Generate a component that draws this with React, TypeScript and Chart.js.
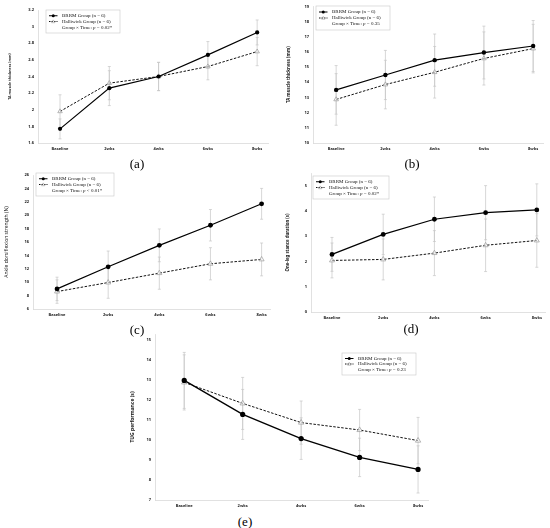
import React, { useEffect, useRef } from "react";
import { Chart, registerables } from "chart.js";

Chart.register(...registerables);

const weeks = ["Baseline", "2wks", "4wks", "6wks", "8wks"];

// (a) TA muscle thickness
const brrmA = [1.77, 2.26, 2.4, 2.66, 2.93];
const hallA = [1.98, 2.32, 2.4, 2.52, 2.7];
const brrmSdA = [0.12, 0.21, 0.17, 0.16, 0.15];
const hallSdA = [0.2, 0.2, 0.17, 0.16, 0.17];
const yTicksA = [1.6, 1.8, 2, 2.2, 2.4, 2.6, 2.8, 3, 3.2];

// (b) TA muscle thickness
const brrmB = [13.5, 14.48, 15.46, 15.96, 16.39];
const hallB = [12.87, 13.85, 14.66, 15.57, 16.22];
const brrmSdB = [1.6, 1.62, 1.72, 1.74, 1.68];
const hallSdB = [1.7, 1.6, 1.7, 1.75, 1.6];
const yTicksB = [10, 11, 12, 13, 14, 15, 16, 17, 18, 19];

// (c) ankle dorsiflexion strength
const brrmC = [9.0, 12.3, 15.5, 18.5, 21.7];
const hallC = [8.6, 9.95, 11.35, 12.75, 13.4];
const brrmSdC = [1.75, 2.35, 2.45, 2.35, 2.3];
const hallSdC = [1.75, 2.35, 2.4, 2.4, 2.45];
const yTicksC = [6, 8, 10, 12, 14, 16, 18, 20, 22, 24, 26];

// (d) one-leg stance duration
const brrmD = [2.28, 3.07, 3.67, 3.93, 4.04];
const hallD = [2.04, 2.08, 2.33, 2.64, 2.83];
const brrmSdD = [0.67, 0.8, 0.88, 1.07, 1.03];
const hallSdD = [0.69, 0.81, 0.89, 1.04, 1.06];
const yTicksD = [0, 1, 2, 3, 4, 5];

// (e) TUG performance
const brrmE = [12.98, 11.28, 10.07, 9.13, 8.53];
const hallE = [12.88, 11.83, 10.87, 10.5, 9.97];
const brrmSdE = [1.4, 1.25, 1.04, 0.96, 1.18];
const hallSdE = [1.38, 1.3, 1.08, 1.03, 1.16];
const yTicksE = [7, 8, 9, 10, 11, 12, 13, 14, 15];

const panels = [
  {
    id: "a", brrm: brrmA, hall: hallA, brrmSd: brrmSdA, hallSd: hallSdA, yTicks: yTicksA,
    yMin: 1.6, yMax: 3.2, title: "TA muscle thickness (mm)", pText: " = 0.02*",
    left: 0, top: 0, w: 275, h: 158, yW: 38, padTop: 10, padRight: 7, xH: 15,
    xMin: -0.447, xMax: 4.22, titleSize: 3.6, titleBold: true, titlePad: 7.8,
    legend: { x: 46, y: 10, w: 74, h: 23 }, label: { x: 137, y: 163 }, r: 2.1,
  },
  {
    id: "b", brrm: brrmB, hall: hallB, brrmSd: brrmSdB, hallSd: hallSdB, yTicks: yTicksB,
    yMin: 10, yMax: 19, title: "TA muscle thickness (mm)", pText: " = 0.35",
    left: 275, top: 0, w: 275, h: 158, yW: 38, padTop: 5, padRight: 7, xH: 15,
    xMin: -0.47, xMax: 4.2, titleSize: 4.4, titleBold: true, titlePad: 11.3,
    legend: { x: 41, y: 6, w: 74, h: 24 }, label: { x: 412, y: 163 }, r: 2.2,
  },
  {
    id: "c", brrm: brrmC, hall: hallC, brrmSd: brrmSdC, hallSd: hallSdC, yTicks: yTicksC,
    yMin: 6, yMax: 26, title: "Ankle dorsiflexion strength (N)", pText: " < 0.01*",
    left: 0, top: 165, w: 275, h: 158, yW: 33, padTop: 10, padRight: 3, xH: 14,
    xMin: -0.47, xMax: 4.17, titleSize: 5, titleBold: false, titlePad: 4,
    legend: { x: 36, y: 8, w: 78, h: 23 }, label: { x: 137, y: 329 }, r: 2.4,
  },
  {
    id: "d", brrm: brrmD, hall: hallD, brrmSd: brrmSdD, hallSd: hallSdD, yTicks: yTicksD,
    yMin: 0, yMax: 5.5, title: "One-leg stance duration (s)", pText: " = 0.02*",
    left: 275, top: 165, w: 275, h: 158, yW: 36, padTop: 8, padRight: 5, xH: 11,
    xMin: -0.41, xMax: 4.16, titleSize: 4.3, titleBold: true, titlePad: 10.4,
    legend: { x: 38, y: 11, w: 76, h: 23 }, label: { x: 411, y: 328 }, r: 2.4,
  },
  {
    id: "e", brrm: brrmE, hall: hallE, brrmSd: brrmSdE, hallSd: hallSdE, yTicks: yTicksE,
    yMin: 7, yMax: 15.3, title: "TUG performance (s)", pText: " = 0.23",
    left: 125, top: 326, w: 310, h: 187, yW: 30, padTop: 8, padRight: 7, xH: 13,
    xMin: -0.5, xMax: 4.17, titleSize: 5, titleBold: true, titlePad: 4.9,
    legend: { x: 217, y: 27, w: 74, h: 22 }, label: { x: 245, y: 521 }, r: 2.6,
  },
];

const sansFont = "'Noto Sans', sans-serif";
const serifFont = "'Liberation Serif', serif";

// grey +/- SD whiskers under the lines
const errorBars = {
  id: "errorBars",
  beforeDatasetsDraw(chart: any) {
    const { ctx } = chart;
    const yScale = chart.scales.y;
    chart.data.datasets.forEach((ds: any, i: number) => {
      const meta = chart.getDatasetMeta(i);
      ctx.save();
      ctx.strokeStyle = "#c6c6c6";
      ctx.lineWidth = 0.7;
      meta.data.forEach((pt: any, j: number) => {
        const v = ds.data[j].y;
        const sd = ds.sd[j];
        const top = yScale.getPixelForValue(v + sd);
        const bot = yScale.getPixelForValue(v - sd);
        ctx.beginPath();
        ctx.moveTo(pt.x, top);
        ctx.lineTo(pt.x, bot);
        ctx.moveTo(pt.x - 1.5, top);
        ctx.lineTo(pt.x + 1.5, top);
        ctx.moveTo(pt.x - 1.5, bot);
        ctx.lineTo(pt.x + 1.5, bot);
        ctx.stroke();
      });
      ctx.restore();
    });
  },
};

// boxed legend with the interaction p value line
const groupLegend = {
  id: "groupLegend",
  afterDraw(chart: any, _args: any, opts: any) {
    const { ctx } = chart;
    const { x, y, w, h, pText } = opts;
    const ds = chart.data.datasets;
    ctx.save();
    ctx.fillStyle = "#fff";
    ctx.fillRect(x, y, w, h);
    ctx.strokeStyle = "#c8c8c8";
    ctx.lineWidth = 0.6;
    ctx.strokeRect(x, y, w, h);

    const row = h / 3.8;
    const rows = [y + row * 0.95, y + row * 1.9, y + row * 2.85];
    const sx = x + 3;
    const ex = x + 11.5;
    const tx = x + 16;

    // BRRM sample
    ctx.strokeStyle = ds[0].borderColor;
    ctx.lineWidth = 1;
    ctx.beginPath();
    ctx.moveTo(sx, rows[0]);
    ctx.lineTo(ex, rows[0]);
    ctx.stroke();
    ctx.fillStyle = ds[0].pointBackgroundColor;
    ctx.beginPath();
    ctx.arc((sx + ex) / 2, rows[0], 1.5, 0, Math.PI * 2);
    ctx.fill();

    // Halliwick sample
    ctx.setLineDash([1.5, 1]);
    ctx.strokeStyle = ds[1].borderColor;
    ctx.beginPath();
    ctx.moveTo(sx, rows[1]);
    ctx.lineTo(ex, rows[1]);
    ctx.stroke();
    ctx.setLineDash([]);
    const cx = (sx + ex) / 2;
    ctx.strokeStyle = ds[1].pointBorderColor;
    ctx.lineWidth = 0.6;
    ctx.beginPath();
    ctx.moveTo(cx, rows[1] - 1.6);
    ctx.lineTo(cx + 1.7, rows[1] + 1.2);
    ctx.lineTo(cx - 1.7, rows[1] + 1.2);
    ctx.closePath();
    ctx.stroke();

    ctx.fillStyle = "#111";
    ctx.textBaseline = "middle";
    ctx.textAlign = "left";
    ctx.font = `5px ${serifFont}`;
    ctx.fillText(ds[0].label, tx, rows[0]);
    ctx.fillText(ds[1].label, tx, rows[1]);
    const lead = "Group \u00d7 Time: ";
    ctx.fillText(lead, tx, rows[2]);
    let px = tx + ctx.measureText(lead).width;
    ctx.font = `italic 5px ${serifFont}`;
    ctx.fillText("p", px, rows[2]);
    px += ctx.measureText("p").width;
    ctx.font = `5px ${serifFont}`;
    ctx.fillText(pText, px, rows[2]);
    ctx.restore();
  },
};

function Panel({ p }: { p: (typeof panels)[number] }) {
  const chartRef = useRef<HTMLCanvasElement | null>(null);
  const chartInstanceRef = useRef<Chart<"line"> | null>(null);

  useEffect(() => {
    if (!chartRef.current) return;
    const ctx = chartRef.current.getContext("2d");
    if (!ctx) return;
    if (chartInstanceRef.current) chartInstanceRef.current.destroy();

    const tickFont = { family: sansFont, size: 4, weight: "bold" as const };

    chartInstanceRef.current = new Chart(ctx, {
      type: "line",
      data: {
        datasets: [
          {
            label: "BRRM Group (n = 6)",
            data: p.brrm.map((v, i) => ({ x: i, y: v })),
            sd: p.brrmSd,
            borderColor: "#000",
            borderWidth: p.id === "e" ? 1.4 : 1.2,
            pointStyle: "circle",
            pointRadius: p.r,
            pointBackgroundColor: "#000",
            pointBorderColor: "#000",
            pointBorderWidth: 0,
            tension: 0,
          } as any,
          {
            label: "Halliwick Group (n = 6)",
            data: p.hall.map((v, i) => ({ x: i, y: v })),
            sd: p.hallSd,
            borderColor: "#111",
            borderWidth: 1,
            borderDash: [2.5, 1.5],
            pointStyle: "triangle",
            pointRadius: p.r + 0.5,
            pointBackgroundColor: "rgba(255,255,255,0.6)",
            pointBorderColor: "#9a9a9a",
            pointBorderWidth: 0.7,
            tension: 0,
          } as any,
        ],
      },
      options: {
        responsive: false,
        animation: false,
        layout: { padding: { top: p.padTop, right: p.padRight, left: 0, bottom: 0 } },
        plugins: {
          legend: { display: false },
          tooltip: { enabled: false },
          groupLegend: { ...p.legend, pText: p.pText },
        } as any,
        scales: {
          x: {
            type: "linear",
            min: p.xMin,
            max: p.xMax,
            afterBuildTicks: (scale: any) => {
              scale.ticks = weeks.map((_, i) => ({ value: i }));
            },
            afterFit: (scale: any) => {
              scale.height = p.xH;
            },
            grid: { display: false, drawTicks: false },
            border: { display: true, color: "#d9d9d9", width: 0.8 },
            ticks: {
              autoSkip: false,
              maxRotation: 0,
              padding: 3,
              color: "#222",
              font: tickFont,
              callback: (v: any) => weeks[v] ?? "",
            },
          },
          y: {
            min: p.yMin,
            max: p.yMax,
            afterBuildTicks: (scale: any) => {
              scale.ticks = p.yTicks.map((v) => ({ value: v }));
            },
            afterFit: (scale: any) => {
              scale.width = p.yW;
            },
            grid: { display: false, drawTicks: false },
            border: { display: true, color: "#d9d9d9", width: 0.8 },
            ticks: {
              autoSkip: false,
              padding: 4,
              color: "#222",
              font: tickFont,
              callback: (v: any) => String(Number(Number(v).toFixed(2))),
            },
            title: {
              display: true,
              text: p.title,
              color: "#222",
              padding: { top: p.titlePad, bottom: 0 },
              font: { family: sansFont, size: p.titleSize, weight: p.titleBold ? "bold" : "normal" },
            },
          },
        },
      },
      plugins: [errorBars, groupLegend],
    });

    return () => {
      if (chartInstanceRef.current) {
        chartInstanceRef.current.destroy();
        chartInstanceRef.current = null;
      }
    };
  }, [p]);

  return (
    <div style={{ position: "absolute", left: p.left, top: p.top, width: p.w, height: p.h }}>
      <canvas ref={chartRef} width={p.w} height={p.h} style={{ width: p.w, height: p.h }} />
    </div>
  );
}

export default function App() {
  return (
    <div style={{ position: "absolute", left: 0, top: 0, width: 550, height: 528, background: "#fff", overflow: "hidden" }}>
      {panels.map((p) => (
        <Panel key={p.id} p={p} />
      ))}
      {panels.map((p) => (
        <div
          key={"lbl" + p.id}
          style={{
            position: "absolute",
            left: p.label.x,
            top: p.label.y,
            transform: "translate(-50%, -50%)",
            fontFamily: serifFont,
            fontSize: 13,
            color: "#000",
            lineHeight: 1,
          }}
        >
          ({p.id})
        </div>
      ))}
    </div>
  );
}
